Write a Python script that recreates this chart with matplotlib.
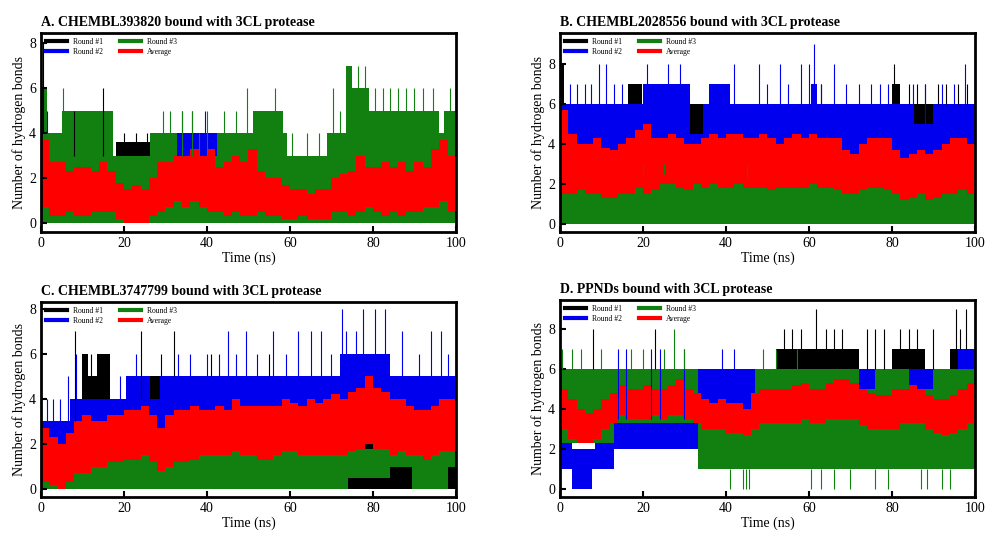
import numpy as np
import matplotlib.pyplot as plt
from matplotlib.lines import Line2D

# colours of the four runs
colors = {'r1': 'black', 'r2': '#0000ee', 'r3': '#118011', 'avg': '#ff0000'}
labels = ['Round #1', 'Round #2', 'Round #3', 'Average']
titles = ['A. CHEMBL393820 bound with 3CL protease',
          'B. CHEMBL2028556 bound with 3CL protease',
          'C. CHEMBL3747799 bound with 3CL protease',
          'D. PPNDs bound with 3CL protease']

# average curve: band (min/max) per 2 ns window
avg_t = np.arange(0, 100, 2)
a_avg_lo = [0.7, 0.3, 0.3, 0.5, 0.3, 0.3, 0.5, 0.5, 0.5, 0.2, 0, 0, 0, 0.3, 0.5, 0.7, 1, 0.7, 1, 0.7,
            0.5, 0.5, 0.3, 0.5, 0.3, 0.3, 0.5, 0.3, 0.3, 0.2, 0.2, 0.3, 0.2, 0.2, 0.2, 0.5, 0.5, 0.3, 0.5, 0.7,
            0.5, 0.3, 0.5, 0.3, 0.5, 0.5, 0.7, 0.7, 1, 0.5]
a_avg_hi = [3.7, 2.7, 2.7, 2.3, 2.5, 2.5, 2.3, 2.7, 2.3, 1.8, 1.5, 1.7, 1.5, 2, 2.7, 2.7, 3, 3, 3.3, 3,
            3.3, 2.5, 2.7, 3, 2.7, 3.3, 2.3, 2, 2, 1.7, 1.5, 1.5, 1.3, 1.5, 1.5, 2, 2.2, 2.3, 3, 2.5,
            2.5, 2.7, 2.5, 2.7, 2.3, 2.7, 2.5, 3.3, 3.7, 3]
b_avg_lo = [1.5, 1.5, 1.7, 1.5, 1.5, 1.3, 1.3, 1.5, 1.5, 1.8, 1.5, 1.7, 2, 2, 1.8, 1.7, 2, 1.8, 2, 1.8,
            1.8, 2, 1.8, 1.8, 1.8, 1.7, 1.8, 1.8, 1.8, 1.8, 2, 1.8, 1.8, 1.7, 1.5, 1.5, 1.7, 1.8, 1.8, 1.7,
            1.5, 1.2, 1.3, 1.5, 1.2, 1.3, 1.5, 1.5, 1.7, 1.5]
b_avg_hi = [5.7, 4.5, 4, 4, 4.3, 3.8, 3.7, 4, 4.3, 4.7, 5, 4.3, 4.3, 4.5, 4.3, 4, 4, 4.3, 4.5, 4.3,
            4.5, 4.5, 4.3, 4.3, 4.5, 4.3, 4, 4.3, 4.5, 4.3, 4.5, 4.3, 4.3, 4.3, 3.7, 3.5, 4, 4.3, 4.3, 4.3,
            3.7, 3.3, 3.5, 3.7, 3.5, 3.7, 4, 4.3, 4.3, 4]
c_avg_lo = [0.3, 0.2, 0, 0.3, 0.7, 0.7, 1, 1, 1.2, 1.2, 1.3, 1.3, 1.5, 1.2, 0.8, 1, 1.2, 1.2, 1.3, 1.5,
            1.5, 1.5, 1.5, 1.7, 1.5, 1.5, 1.3, 1.3, 1.5, 1.7, 1.7, 1.5, 1.5, 1.5, 1.5, 1.5, 1.5, 1.7, 1.8, 2,
            1.8, 1.8, 1.5, 1.7, 1.5, 1.5, 1.3, 1.5, 1.7, 1.7]
c_avg_hi = [2.7, 2.3, 2, 2.5, 3, 3.3, 3, 3, 3.3, 3.3, 3.5, 3.5, 3.7, 3.3, 2.7, 3.3, 3.5, 3.5, 3.7, 3.5,
            3.5, 3.7, 3.5, 4, 3.7, 3.7, 3.7, 3.7, 3.7, 4, 3.8, 3.7, 4, 3.8, 4, 4.2, 4, 4.3, 4.5, 5,
            4.5, 4.3, 4, 4, 3.7, 3.5, 3.5, 3.7, 4, 4]
d_avg_lo = [3, 2.5, 2.3, 2.3, 2.5, 3, 3.3, 3.7, 3.5, 3.5, 3.5, 3.7, 3.5, 3.7, 3.7, 3.5, 3.3, 3, 3, 3,
            2.8, 2.8, 2.7, 3, 3.3, 3.3, 3.3, 3.3, 3.3, 3.5, 3.3, 3.3, 3.5, 3.5, 3.5, 3.5, 3.2, 3, 3, 3,
            3, 3.3, 3.3, 3.3, 3, 2.8, 2.7, 2.8, 3, 3.3]
d_avg_hi = [5, 4.5, 4, 3.8, 4, 4.5, 4.8, 5.2, 5, 5, 5.2, 5, 5, 5.2, 5.5, 5, 4.8, 4.5, 4.3, 4.5,
            4.3, 4.3, 4, 4.8, 5, 5, 5, 5, 5.2, 5.3, 5, 5, 5.3, 5.5, 5.5, 5.3, 5, 4.8, 4.7, 4.7,
            5, 5, 5.2, 5, 4.7, 4.5, 4.5, 4.7, 5, 5.3]

# single runs: piecewise bands (segment start in ns, low, high)
a_r1_t = [0, 2, 18, 27, 59.2, 69]
a_r1_lo = [0, 0, 0, 0, 0, 0]
a_r1_hi = [4, 3, 3.6, 3, 3, 3]
a_r2_t = [0, 2, 32.7, 42.3]
a_r2_lo = [0, 0, 0, 0]
a_r2_hi = [4, 3, 4, 3]
a_r3_t = [0, 1.4, 5, 17.4, 26.3, 32.7, 42.3, 51, 58.4, 59.2, 69, 73.5, 75, 79, 96, 97]
a_r3_lo = [0, 0, 0, 0, 0, 0, 0, 0, 0, 0, 0, 0, 0, 0, 0, 0]
a_r3_hi = [6, 4, 5, 3, 4, 3, 4, 5, 4, 3, 4, 7, 6, 5, 4, 5]

b_r1_t = [0, 1, 16.5, 19.7, 80, 82]
b_r1_lo = [0, 0, 0, 0, 0, 0]
b_r1_hi = [8, 6, 7, 6, 7, 6]
b_r2_t = [0, 20, 31.3, 34.5, 36, 41, 60.5, 62, 85, 90]
b_r2_lo = [3, 3, 3, 3, 3, 3, 3, 3, 3, 3]
b_r2_hi = [6, 7, 4.5, 6, 7, 6, 7, 6, 5, 6]
b_r3_t = [0, 1, 10, 20, 30, 40, 60, 80, 90]
b_r3_lo = [0, 0, 0, 0, 0, 0, 0, 0, 0]
b_r3_hi = [3, 2, 2, 2.5, 2.3, 2.3, 2, 1.7, 2]

c_r1_t = [0, 9.8, 11.4, 13.4, 16.6, 26.3, 28.7]
c_r1_lo = [0, 0, 0, 0, 0, 0, 0]
c_r1_hi = [3, 6, 5, 6, 4, 5, 5]
c_r2_t = [0, 2.2, 7, 9.8, 20.6, 26.3, 28.7, 72, 84]
c_r2_lo = [2, 2, 2, 2, 2, 2, 2, 2, 2]
c_r2_hi = [3, 3, 4, 4, 5, 4, 5, 6, 5]
c_r3_t = [0, 8, 20, 30, 45, 47, 60, 74, 80, 84, 89.5, 98]
c_r3_lo = [0, 0, 0, 0, 0, 0, 0, 0.5, 0.5, 1, 0, 1]
c_r3_hi = [2, 1.5, 1.7, 1.5, 2.3, 1.7, 1.8, 1.8, 2, 2, 2, 2]

d_r1_t = [0, 12.9, 52, 72, 80, 88, 94]
d_r1_lo = [3, 2, 2, 2, 2, 2, 2]
d_r1_hi = [6, 6, 7, 6, 7, 6, 7]
d_r2_t = [0, 2.8, 7.6, 8.4, 12.9, 33.3, 47, 72, 76, 84, 90, 96]
d_r2_lo = [1, 0, 1, 1, 2, 2, 2, 2, 2, 2, 2, 2]
d_r2_hi = [3, 2, 2, 2.5, 3.5, 6, 5, 6, 5, 6, 5, 7]
d_r3_t = [0, 12.9, 33.3, 47, 72, 76, 84, 90]
d_r3_lo = [2.3, 3.3, 1, 1, 1, 1, 1, 1]
d_r3_hi = [6, 6, 3.5, 6, 5, 6, 5, 6]

# single-frame spikes above the bands (time, value)
a_r1_spk_t = [0.5, 8, 15, 20, 23, 25.5]
a_r1_spk_v = [8, 5, 6, 4, 4, 4]
a_r2_spk_t = [1.5, 34, 36.5, 39.5]
a_r2_spk_v = [5, 5, 5, 5]
a_r3_spk_t = [5.4, 29.4, 31, 34, 36.5, 38, 40, 44, 47, 49.6, 56.3, 60.5, 64, 67, 70.4, 72, 76.5, 78,
              80.5, 82.5, 84, 86, 88, 90, 92, 94.5, 98.5]
a_r3_spk_v = [6, 5, 5, 5, 5, 4, 5, 5, 5, 6, 6, 4, 4, 4, 6, 5, 7, 7, 6, 6, 6, 6, 6, 6, 6, 6, 6]

b_r1_spk_t = [63, 80.5, 84, 86, 88, 91, 93, 96, 98]
b_r1_spk_v = [7, 8, 7, 7, 7, 7, 7, 7, 7]
b_r2_spk_t = [2.5, 4, 6, 7.5, 9.5, 11, 13, 15, 21, 23.5, 26, 29, 37, 39, 42, 48, 50, 53, 55, 58,
              60, 61.2, 63, 66, 69, 72, 75, 77, 79, 85, 88, 92, 95, 97.5]
b_r2_spk_v = [7, 7, 7, 7, 8, 8, 7, 7, 8, 7, 8, 8, 7, 7, 8, 8, 7, 8, 7, 8,
              8, 9, 7, 8, 7, 7, 7, 7, 7, 7, 7, 7, 7, 8]
b_r3_spk_t = [20, 25, 45]
b_r3_spk_v = [3, 3, 3]

c_r1_spk_t = [8.3, 12, 24, 29, 32, 41, 55]
c_r1_spk_v = [7, 6, 7, 6, 7, 6, 6]
c_r2_spk_t = [1.5, 3, 4.5, 6.5, 8.5, 19, 21, 23, 33, 36, 40, 43, 45, 47, 49.5, 52, 56, 59, 62, 65,
              67.5, 70, 72.5, 73.5, 76, 77.5, 80.5, 83, 87, 91, 94, 96.5, 98]
c_r2_spk_v = [4, 4, 4, 5, 6, 5, 5, 6, 6, 6, 6, 6, 7, 6, 7, 6, 7, 6, 7, 7,
              7, 6, 8, 7, 7, 8, 8, 8, 7, 6, 7, 7, 6]
c_r3_spk_t = []
c_r3_spk_v = []

d_r1_spk_t = [8, 23, 54, 56, 58, 61.8, 64, 66, 68, 74, 76, 78, 82, 84, 86, 90, 95.5, 96.5, 97.8]
d_r1_spk_v = [8, 8, 8, 8, 8, 9, 8, 8, 8, 8, 8, 8, 8, 8, 8, 8, 9, 8, 9]
d_r2_spk_t = [14, 16, 22, 24, 30, 39, 42]
d_r2_spk_v = [7, 7, 7, 7, 7, 7, 7]
d_r3_spk_t = [0.5, 3, 5, 10, 17, 20, 25, 27.5, 30, 49, 52, 57]
d_r3_spk_v = [7, 7, 7, 7, 7, 7, 7, 8, 7, 7, 7, 7]
# drops of round #3 in D down to 0
d_r3_dip_t = [41, 44, 44.8, 45.6, 60.5, 63, 66, 70, 76, 79, 87, 88.5, 92, 94]

ylims = [(-0.4, 8.45), (-0.4, 9.55), (-0.35, 8.3), (-0.4, 9.45)]
serif = 'Liberation Serif'


def band(ax, t, lo, hi, col):
    t = np.asarray(t, float)
    w = np.diff(np.append(t, 100))
    lo = np.asarray(lo, float)
    hi = np.asarray(hi, float)
    ax.bar(t, hi - lo, width=w, bottom=lo, align='edge', color=col, linewidth=0)


def spikes(ax, t, lo, hi, st, sv, col):
    if len(st) == 0:
        return
    idx = np.searchsorted(np.asarray(t, float), st, side='right') - 1
    base = np.asarray(hi, float)[idx]
    ax.vlines(st, base, sv, color=col, lw=0.8)


fig = plt.figure(figsize=(9.85, 5.34), dpi=100)
rects = [[0.0416, 0.5655, 0.4213, 0.3727], [0.5685, 0.5655, 0.4213, 0.3727],
         [0.0416, 0.0693, 0.4213, 0.3652], [0.5685, 0.0693, 0.4213, 0.369]]

panels = [
    (a_r1_t, a_r1_lo, a_r1_hi, a_r2_t, a_r2_lo, a_r2_hi, a_r3_t, a_r3_lo, a_r3_hi, a_avg_lo, a_avg_hi,
     (a_r1_spk_t, a_r1_spk_v), (a_r2_spk_t, a_r2_spk_v), (a_r3_spk_t, a_r3_spk_v)),
    (b_r1_t, b_r1_lo, b_r1_hi, b_r2_t, b_r2_lo, b_r2_hi, b_r3_t, b_r3_lo, b_r3_hi, b_avg_lo, b_avg_hi,
     (b_r1_spk_t, b_r1_spk_v), (b_r2_spk_t, b_r2_spk_v), (b_r3_spk_t, b_r3_spk_v)),
    (c_r1_t, c_r1_lo, c_r1_hi, c_r2_t, c_r2_lo, c_r2_hi, c_r3_t, c_r3_lo, c_r3_hi, c_avg_lo, c_avg_hi,
     (c_r1_spk_t, c_r1_spk_v), (c_r2_spk_t, c_r2_spk_v), (c_r3_spk_t, c_r3_spk_v)),
    (d_r1_t, d_r1_lo, d_r1_hi, d_r2_t, d_r2_lo, d_r2_hi, d_r3_t, d_r3_lo, d_r3_hi, d_avg_lo, d_avg_hi,
     (d_r1_spk_t, d_r1_spk_v), (d_r2_spk_t, d_r2_spk_v), (d_r3_spk_t, d_r3_spk_v)),
]

for k, p in enumerate(panels):
    ax = fig.add_axes(rects[k])
    r1t, r1lo, r1hi, r2t, r2lo, r2hi, r3t, r3lo, r3hi, alo, ahi, s1, s2, s3 = p
    band(ax, r1t, r1lo, r1hi, colors['r1'])
    spikes(ax, r1t, r1lo, r1hi, s1[0], s1[1], colors['r1'])
    band(ax, r2t, r2lo, r2hi, colors['r2'])
    spikes(ax, r2t, r2lo, r2hi, s2[0], s2[1], colors['r2'])
    band(ax, r3t, r3lo, r3hi, colors['r3'])
    spikes(ax, r3t, r3lo, r3hi, s3[0], s3[1], colors['r3'])
    if k == 3:
        ax.vlines(d_r3_dip_t, 0, 1, color=colors['r3'], lw=0.8)
    ax.bar(avg_t, np.array(ahi) - np.array(alo), width=2, bottom=alo, align='edge',
           color=colors['avg'], linewidth=0)

    ax.set_xlim(0, 100)
    ax.set_ylim(*ylims[k])
    ax.set_xticks(range(0, 101, 20))
    ax.set_yticks(range(0, 9, 2))
    ax.tick_params(direction='in', length=4, width=1.5, labelsize=10)
    for lab in ax.get_xticklabels() + ax.get_yticklabels():
        lab.set_family(serif)
    for s in ax.spines.values():
        s.set_linewidth(2)
    ax.set_xlabel('Time (ns)', family=serif, fontsize=10, labelpad=1)
    ax.set_ylabel('Number of hydrogen bonds', family=serif, fontsize=10, labelpad=2)
    ax.set_title(titles[k], loc='left', family=serif, fontweight='bold', fontsize=10, pad=5)

    handles = [Line2D([], [], color=colors[c], lw=3) for c in ['r1', 'r2', 'r3', 'avg']]
    ax.legend(handles, labels, loc='upper left', ncol=2, frameon=False,
              prop={'family': serif, 'size': 5.5}, handlelength=2.8, columnspacing=2.2,
              labelspacing=0.3, borderaxespad=0.2, handletextpad=0.8)

fig.savefig('out.png', dpi=100)
